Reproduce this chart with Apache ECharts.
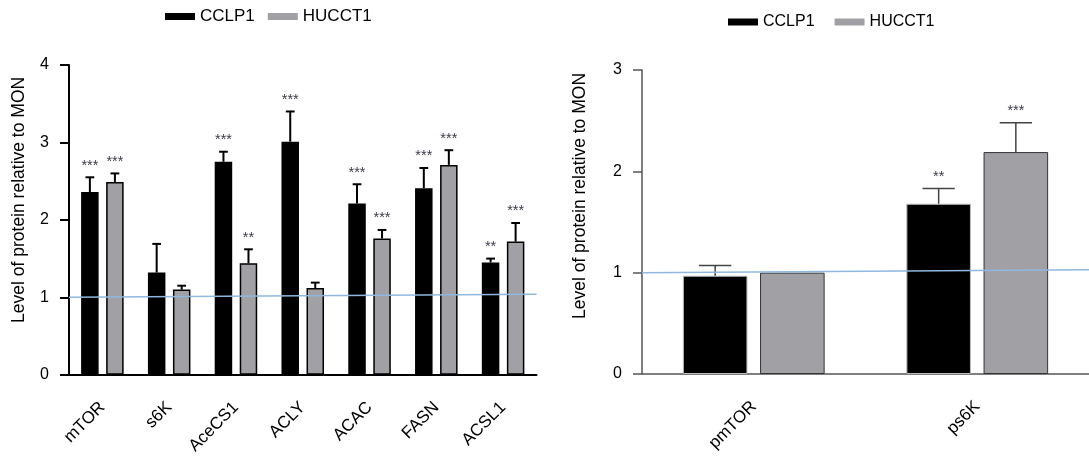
<!DOCTYPE html>
<html><head><meta charset="utf-8">
<script src="https://cdn.jsdelivr.net/npm/echarts@6/dist/echarts.min.js"></script>
<style>html,body{margin:0;padding:0;background:#fff}#c{width:1089px;height:457px}</style>
</head><body><div id="c"></div>
<script>
// ---- data ----
const leftCategories = ['mTOR','s6K','AceCS1','ACLY','ACAC','FASN','ACSL1'];
const leftCCLP1 = [2.36, 1.32, 2.75, 3.01, 2.21, 2.41, 1.45];
const leftCCLP1Err = [0.19, 0.37, 0.13, 0.39, 0.25, 0.26, 0.05];
const leftCCLP1Sig = ['***','','***','***','***','***','**'];
const leftHUCCT1 = [2.49, 1.10, 1.44, 1.12, 1.76, 2.71, 1.72];
const leftHUCCT1Err = [0.11, 0.05, 0.18, 0.07, 0.11, 0.19, 0.24];
const leftHUCCT1Sig = ['***','','**','','***','***','***'];
const leftRefLine = [1.00, 1.04];
const leftYTicks = [0, 4, 1];

const rightCategories = ['pmTOR','ps6K'];
const rightCCLP1 = [0.97, 1.68];
const rightCCLP1Err = [0.10, 0.15];
const rightCCLP1Sig = ['', '**'];
const rightHUCCT1 = [1.00, 2.19];
const rightHUCCT1Err = [0, 0.29];
const rightHUCCT1Sig = ['', '***'];
const rightRefLine = [1.00, 1.03];
const rightYTicks = [0, 3, 1];

const seriesNames = ['CCLP1', 'HUCCT1'];

// ---- style ----
const FONT = 'Liberation Sans, Arial, sans-serif';
const GRAY = '#a1a0a5';

function errSeries(gridIdx, vals, errs, sigs, side, bwPct, gapPct, color, lw) {
  return {
    type: 'custom', xAxisIndex: gridIdx * 2, yAxisIndex: gridIdx, z: 5,
    data: vals.map((v, i) => [i, v, errs[i]]),
    renderItem: function (params, api) {
      const idx = api.value(0), v = api.value(1), e = api.value(2);
      const sig = sigs[idx];
      const band = api.size([1, 0])[0];
      const bw = band * bwPct;
      const off = side * (bw + bw * gapPct) / 2;
      const base = api.coord([idx, v]);
      const top = api.coord([idx, v + e]);
      const x = base[0] + off;
      const children = [];
      if (e > 0) {
        children.push({type: 'line', shape: {x1: x, y1: base[1], x2: x, y2: top[1]}, style: {stroke: color, lineWidth: lw}});
        children.push({type: 'line', shape: {x1: x - bw / 4, y1: top[1], x2: x + bw / 4, y2: top[1]}, style: {stroke: color, lineWidth: lw}});
      }
      if (sig) {
        children.push({type: 'text', style: {text: sig, x: x, y: top[1] - 4, textAlign: 'center', textVerticalAlign: 'bottom', font: '14.5px ' + FONT, fill: '#3a3a4a'}});
      }
      return {type: 'group', children: children};
    }
  };
}

const option = {
  animation: false,
  backgroundColor: '#fff',
  legend: [
    {data: seriesNames, left: 160, top: 3, itemWidth: 30, itemHeight: 7, itemGap: 13, icon: 'rect',
     textStyle: {fontFamily: FONT, fontSize: 17, color: '#000'},
     itemStyle: {borderWidth: 0}},
    {data: seriesNames.slice(), left: 723, top: 9, itemWidth: 30, itemHeight: 7, itemGap: 20, icon: 'rect',
     textStyle: {fontFamily: FONT, fontSize: 16, color: '#000'},
     itemStyle: {borderWidth: 0}}
  ],
  grid: [
    {left: 69, top: 65, width: 467.5, bottom: 457 - 375},
    {left: 642, top: 70, width: 460, bottom: 457 - 374}
  ],
  xAxis: [
    {type: 'category', gridIndex: 0, data: leftCategories,
     axisLine: {lineStyle: {color: '#000', width: 2}},
     axisTick: {alignWithLabel: true, length: 8, lineStyle: {width: 2, color: '#000'}},
     axisLabel: {rotate: 45, margin: 30, fontFamily: FONT, fontSize: 17, color: '#000'}},
    {type: 'value', gridIndex: 0, min: 0, max: 1, show: false},
    {type: 'category', gridIndex: 1, data: rightCategories,
     axisLine: {lineStyle: {color: '#555', width: 1.5}},
     axisTick: {alignWithLabel: true, length: 9, lineStyle: {width: 1.5, color: '#333'}},
     axisLabel: {rotate: 45, margin: 30, fontFamily: FONT, fontSize: 17, color: '#000'}},
    {type: 'value', gridIndex: 1, min: 0, max: 1, show: false}
  ],
  yAxis: [
    {type: 'value', gridIndex: 0, min: leftYTicks[0], max: leftYTicks[1], interval: leftYTicks[2],
     name: 'Level of protein relative to MON', nameLocation: 'middle', nameGap: 41, nameRotate: 90,
     nameTextStyle: {fontFamily: FONT, fontSize: 17.5, color: '#000', padding: [0, 0, 0, 40]},
     axisLine: {show: true, lineStyle: {color: '#000', width: 2}},
     axisTick: {show: true, length: 9, lineStyle: {width: 2, color: '#000'}},
     axisLabel: {margin: 20, fontFamily: FONT, fontSize: 16, color: '#000'},
     splitLine: {show: false}},
    {type: 'value', gridIndex: 1, min: rightYTicks[0], max: rightYTicks[1], interval: rightYTicks[2],
     name: 'Level of protein relative to MON', nameLocation: 'middle', nameGap: 53, nameRotate: 90,
     nameTextStyle: {fontFamily: FONT, fontSize: 17.5, color: '#000', padding: [0, 0, 0, 52]},
     axisLine: {show: true, lineStyle: {color: '#555', width: 1.5}},
     axisTick: {show: true, length: 9, lineStyle: {width: 1.5, color: '#555'}},
     axisLabel: {margin: 20, fontFamily: FONT, fontSize: 16, color: '#000'},
     splitLine: {show: false}}
  ],
  series: [
    {name: seriesNames[0], type: 'bar', xAxisIndex: 0, yAxisIndex: 0, data: leftCCLP1,
     barWidth: '26.2%', barGap: '43%', itemStyle: {color: '#000', borderColor: '#000', borderWidth: 1.5}},
    {name: seriesNames[1], type: 'bar', xAxisIndex: 0, yAxisIndex: 0, data: leftHUCCT1,
     barWidth: '26.2%', barGap: '43%', itemStyle: {color: GRAY, borderColor: '#000', borderWidth: 1.5}},
    errSeries(0, leftCCLP1, leftCCLP1Err, leftCCLP1Sig, -1, 0.262, 0.43, '#000', 2),
    errSeries(0, leftHUCCT1, leftHUCCT1Err, leftHUCCT1Sig, 1, 0.262, 0.43, '#000', 2),
    {type: 'line', xAxisIndex: 1, yAxisIndex: 0, data: [[0, leftRefLine[0]], [1, leftRefLine[1]]],
     symbol: 'none', z: 6, lineStyle: {color: '#8fb8e0', width: 1.5}},

    {name: seriesNames[0], type: 'bar', xAxisIndex: 2, yAxisIndex: 1, data: rightCCLP1,
     barWidth: '28.9%', barGap: '19.5%', itemStyle: {color: '#000', borderColor: '#bbb', borderWidth: 1}},
    {name: seriesNames[1], type: 'bar', xAxisIndex: 2, yAxisIndex: 1, data: rightHUCCT1,
     barWidth: '28.9%', barGap: '19.5%', itemStyle: {color: GRAY, borderColor: '#333', borderWidth: 1}},
    errSeries(1, rightCCLP1, rightCCLP1Err, rightCCLP1Sig, -1, 0.289, 0.195, '#444', 1.5),
    errSeries(1, rightHUCCT1, rightHUCCT1Err, rightHUCCT1Sig, 1, 0.289, 0.195, '#444', 1.5),
    {type: 'line', xAxisIndex: 3, yAxisIndex: 1, data: [[0, rightRefLine[0]], [1, rightRefLine[1]]],
     symbol: 'none', z: 6, lineStyle: {color: '#8fb8e0', width: 1.5}}
  ]
};
const chart = echarts.init(document.getElementById('c'), null, {renderer: 'canvas'});
chart.setOption(option);
</script></body></html>
